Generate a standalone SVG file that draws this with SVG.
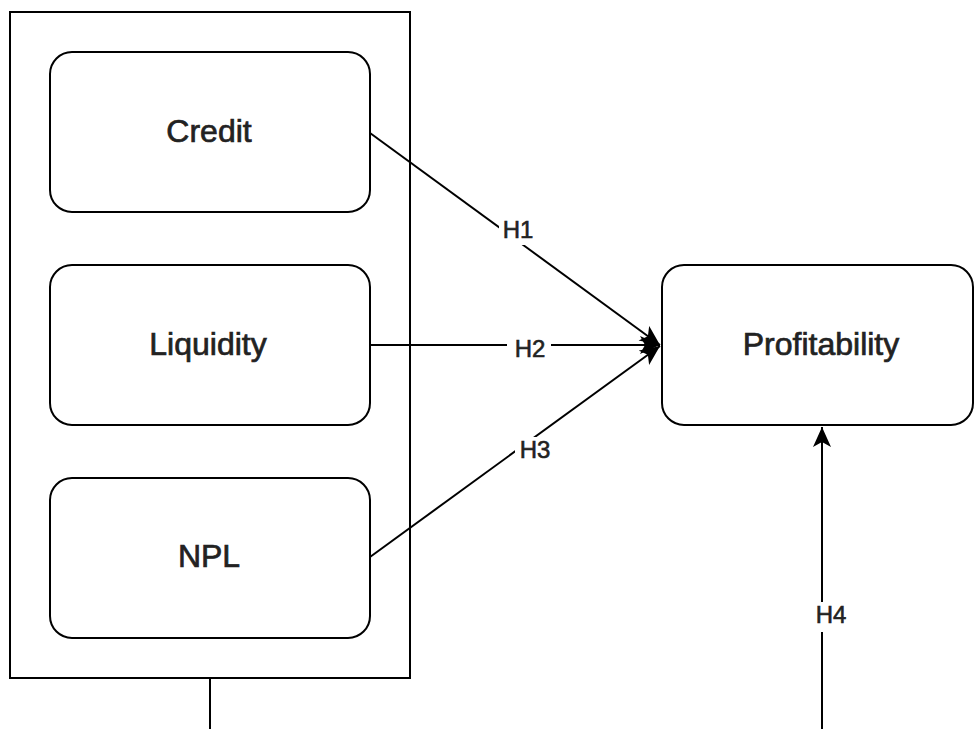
<svg xmlns="http://www.w3.org/2000/svg" width="974" height="729" viewBox="0 0 974 729">
<style>
.box{fill:#fff;stroke:#000;stroke-width:2}
.node{fill:#fff;stroke:#000;stroke-width:2}
.t{font-family:"Liberation Sans",Arial,sans-serif;font-size:32px;fill:#222;stroke:#222;stroke-width:0.7;text-anchor:middle}
.lbl{font-family:"Liberation Sans",Arial,sans-serif;font-size:24px;fill:#222;stroke:#222;stroke-width:0.6;text-anchor:middle}
.edge{fill:none;stroke:#000;stroke-width:2}
.bg{fill:#fff}
</style>
<defs>
<marker id="arr" markerUnits="userSpaceOnUse" markerWidth="22" markerHeight="20" refX="20" refY="9" orient="auto">
<path d="M0,0 L20,9 L0,18 L5,9 Z" fill="#000"/>
</marker>
</defs>
<g id="group">
<rect class="box" x="10" y="12" width="400" height="666"/>
</g>
<g id="credit">
<rect class="node" x="50" y="52" width="320" height="160" rx="22" ry="22"/>
<text class="t" x="209" y="142">Credit</text>
</g>
<g id="liquidity">
<rect class="node" x="50" y="265" width="320" height="160" rx="22" ry="22"/>
<text class="t" x="208" y="355">Liquidity</text>
</g>
<g id="npl">
<rect class="node" x="50" y="478" width="320" height="160" rx="22" ry="22"/>
<text class="t" x="209" y="567">NPL</text>
</g>
<g id="profitability">
<rect class="node" x="662" y="265" width="311" height="160" rx="22" ry="22"/>
<text class="t" x="821" y="355">Profitability</text>
</g>
<g id="connectors">
<path class="edge" d="M370,133 L660,345" marker-end="url(#arr)"/>
<path class="edge" d="M370,345 L660,345" marker-end="url(#arr)"/>
<path class="edge" d="M370,557 L660,346" marker-end="url(#arr)"/>
<path class="edge" d="M822,729 L822,427" marker-end="url(#arr)"/>
<path class="edge" d="M210,678 L210,729"/>
<rect class="bg" x="499" y="219" width="38" height="26"/>
<text class="lbl" x="518" y="238">H1</text>
<rect class="bg" x="507" y="336" width="44" height="24"/>
<text class="lbl" x="530" y="357">H2</text>
<rect class="bg" x="515" y="437" width="40" height="24"/>
<text class="lbl" x="535" y="458">H3</text>
<rect class="bg" x="811" y="602" width="40" height="30"/>
<text class="lbl" x="831" y="623">H4</text>
</g>
</svg>
